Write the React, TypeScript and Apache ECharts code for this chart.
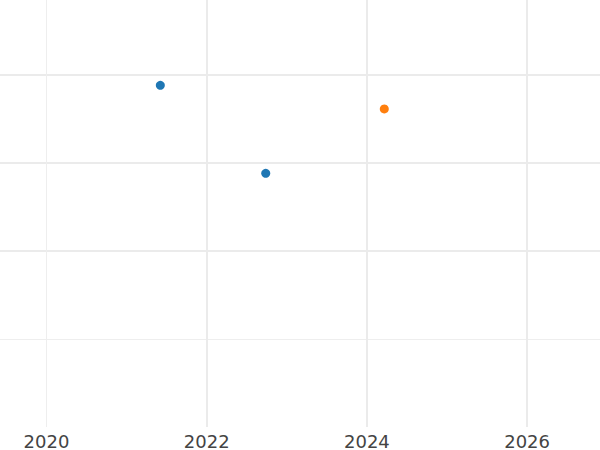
import React, { useEffect, useRef } from "react";
import * as echarts from "echarts";

const X_MIN = 2019.4195;
const X_MAX = 2026.91;
const Y_MIN = 0;
const Y_MAX = 4.852;

const blueX = [2021.421, 2022.737];
const blueY = [3.883, 2.883];
const orangeX = [2024.217];
const orangeY = [3.614];

const GRID = "#ebebeb";
const GRID_THIN = "#eeeeee";
const NONE = "rgba(0,0,0,0)";

export default function App() {
  const ref = useRef<HTMLDivElement>(null);
  useEffect(() => {
    if (!ref.current) return;
    const chart = echarts.init(ref.current, null, { renderer: "svg" });
    const xCommon = {
      type: "value",
      min: X_MIN,
      max: X_MAX,
      splitNumber: 4,
      axisLine: { show: false },
      axisTick: { show: false },
    };
    const yCommon = {
      type: "value",
      min: Y_MIN,
      max: Y_MAX,
      interval: 1,
      axisLine: { show: false },
      axisTick: { show: false },
      axisLabel: { show: false },
    };
    chart.setOption({
      animation: false,
      backgroundColor: "#ffffff",
      grid: { left: 0, right: 0, top: 0, bottom: 23, containLabel: false },
      xAxis: [
        {
          ...xCommon,
          axisLabel: {
            show: true,
            showMinLabel: false,
            showMaxLabel: false,
            color: "#444444",
            fontSize: 18,
            fontFamily: "DejaVu Sans",
            margin: 5,
            formatter: (v: number) => String(Math.round(v)),
          },
          splitLine: {
            show: true,
            lineStyle: { color: [NONE, NONE, GRID, GRID, GRID, NONE], width: 2 },
          },
        },
        {
          ...xCommon,
          axisLabel: { show: false },
          splitLine: {
            show: true,
            lineStyle: { color: [NONE, GRID_THIN, NONE, NONE, NONE, NONE], width: 1 },
          },
        },
      ],
      yAxis: [
        {
          ...yCommon,
          splitLine: {
            show: true,
            lineStyle: { color: [NONE, NONE, GRID, GRID, GRID, NONE], width: 2 },
          },
        },
        {
          ...yCommon,
          splitLine: {
            show: true,
            lineStyle: { color: [NONE, GRID_THIN, NONE, NONE, NONE, NONE], width: 1 },
          },
        },
      ],
      series: [
        {
          type: "scatter",
          symbolSize: 9,
          itemStyle: { color: "#1f77b4", opacity: 1 },
          data: blueX.map((x, i) => [x, blueY[i]]),
        },
        {
          type: "scatter",
          symbolSize: 9,
          itemStyle: { color: "#ff7f0e", opacity: 1 },
          data: orangeX.map((x, i) => [x, orangeY[i]]),
        },
      ],
    });
    return () => chart.dispose();
  }, []);
  return <div ref={ref} style={{ width: 600, height: 450, position: "fixed", left: 0, top: 0 }} />;
}
